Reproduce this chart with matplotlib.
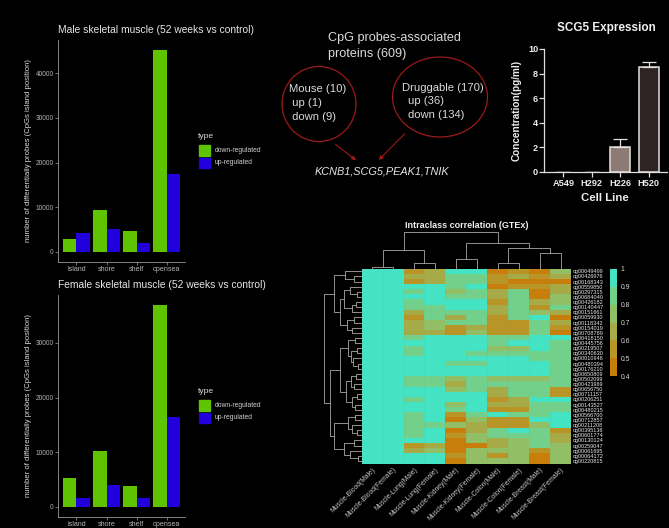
import numpy as np
import matplotlib
matplotlib.use("Agg")
import matplotlib.pyplot as plt
from matplotlib.patches import Rectangle, Ellipse
from matplotlib.colors import ListedColormap, BoundaryNorm
from matplotlib.cm import ScalarMappable

plt.rcParams['font.family'] = ['Liberation Sans', 'DejaVu Sans']

# ---------------- data ----------------
cpg_categories = ['island', 'shore', 'shelf', 'opensea']
male_down = [2770, 9350, 4710, 45230]
male_up = [4260, 5080, 1870, 17500]
female_down = [5300, 10160, 3830, 36940]
female_up = [1640, 3960, 1580, 16430]
type_labels = ['down-regulated', 'up-regulated']

cell_lines = ['A549', 'H292', 'H226', 'H520']
scg5_conc = [0.0, 0.0, 2.0, 8.55]
scg5_err = [0.0, 0.0, 0.7, 0.4]

tissues = ['Muscle-Blood(Male)', 'Muscle-Blood(Female)', 'Muscle-Lung(Male)',
           'Muscle-Lung(Female)', 'Muscle-Kidney(Male)', 'Muscle-Kidney(Female)',
           'Muscle-Colon(Male)', 'Muscle-Colon(Female)', 'Muscle-Breast(Male)',
           'Muscle-Breast(Female)']
probes = ['cg00649499', 'cg00426976', 'cg00168343', 'cg00559850', 'cg00297315',
          'cg00684040', 'cg00426182', 'cg00140447', 'cg00151661', 'cg00059930',
          'cg00118342', 'cg00154019', 'cg00708789', 'cg00418150', 'cg00445756',
          'cg00219507', 'cg00340630', 'cg00010946', 'cg00480394', 'cg00176210',
          'cg00650809', 'cg00502099', 'cg00423969', 'cg00656750', 'cg00711157',
          'cg00206251', 'cg00143527', 'cg00480215', 'cg00566700', 'cg00712857',
          'cg00211208', 'cg00395136', 'cg00601774', 'cg00130124', 'cg00259047',
          'cg00061695', 'cg00064172', 'cg00220815']
icc = np.array([
    [1, 1, .56, .66, .96, .96, .46, .56, .46, .75],
    [1, 1, .66, .66, .84, .84, .56, .66, .56, .66],
    [1, 1, .56, .66, .84, .84, .56, .46, .46, .46],
    [1, 1, .96, .96, .84, .96, .46, .56, .56, .66],
    [1, 1, .84, .96, .75, .84, .66, .84, .46, .66],
    [1, 1, .96, .96, .84, .84, .66, .84, .46, .75],
    [1, 1, .84, .96, .96, .96, .56, .84, .66, .75],
    [1, 1, .84, .84, .96, .96, .66, .84, .56, .84],
    [1, 1, .66, .84, .84, .84, .66, .84, .75, .66],
    [1, 1, .56, .84, .66, .84, .56, .84, .96, .46],
    [1, 1, .66, .75, .84, .84, .56, .56, .84, .66],
    [1, 1, .66, .75, .56, .66, .56, .56, .84, .56],
    [1, 1, .66, .66, .56, .75, .56, .56, .84, .46],
    [1, 1, .84, .96, .96, .96, .84, .84, .96, .96],
    [1, 1, .96, .96, .96, .96, .84, .96, .96, .84],
    [1, 1, .84, .96, .96, .96, .75, .75, .96, .84],
    [1, 1, .84, .96, .96, .84, .84, .84, .84, .84],
    [1, 1, .96, .96, .96, .96, .96, .96, .84, .84],
    [1, 1, .96, .96, .84, .84, .96, .96, .96, .84],
    [1, 1, .96, .96, .96, .96, .96, .96, .96, .84],
    [1, 1, .96, .96, .96, .96, .96, .96, .96, .84],
    [1, 1, .84, .84, .75, .84, .75, .75, .75, .84],
    [1, 1, .84, .84, .66, .84, .84, .84, .84, .84],
    [1, 1, .96, .96, .75, .84, .66, .84, .84, .56],
    [1, 1, .96, .96, .96, .96, .66, .84, .84, .56],
    [1, 1, .84, .96, .96, .96, .56, .66, .96, .96],
    [1, 1, .96, .96, .75, .96, .66, .66, .84, .84],
    [1, 1, .96, .96, .84, .96, .56, .56, .84, .84],
    [1, 1, .84, .96, .56, .84, .96, .84, .84, .96],
    [1, 1, .84, .96, .46, .75, .56, .56, .96, .96],
    [1, 1, .84, .84, .75, .66, .56, .56, .75, .96],
    [1, 1, .84, .96, .46, .66, .84, .96, .84, .56],
    [1, 1, .84, .96, .56, .75, .84, .84, .84, .66],
    [1, 1, .96, .96, .46, .75, .66, .75, .84, .66],
    [1, 1, .56, .66, .46, .46, .66, .75, .84, .75],
    [1, 1, .66, .75, .46, .75, .75, .75, .56, .75],
    [1, 1, .96, .96, .56, .75, .56, .75, .46, .75],
    [1, 1, .96, .96, .46, .75, .75, .75, .46, .75],
])
# dendrograms: (merge height, left, right); leaves are indices
col_tree = (37, (18.7, (1.4, 0, 1), (5.4, 2, 3)),
            (26, (9.4, 4, 5), (20.4, (6, 6, 7), (16, 8, 9))))
row_tree = (37.7,
            (28, (17, 0, (8, 1, 2)),
                 (22, (18, (12, 3, (5, 4, 5)), (10, (6, 6, 7), 8)),
                      (15, (8, 9, 10), (10, 11, 12)))),
            (32, (22, (14, (7, 13, 14), (11, (5, 15, 16), (9, 17, (4, 18, 19)))),
                      (16, (11, (6, 20, 21), (8, 22, 23)), (10, (5, 24, 25), (7, 26, 27)))),
                 (28, (14, (7, 28, 29), (10, 30, (5, 31, 32))),
                      (18, (8, 33, 34), (12, 35, (4, 36, 37))))))
cbar_ticks = [0.4, 0.5, 0.6, 0.7, 0.8, 0.9, 1.0]
cbar_labels = ['0.4', '0.5', '0.6', '0.7', '0.8', '0.9', '1']

# ---------------- figure ----------------
W, H = 669, 528
fig = plt.figure(figsize=(W / 100, H / 100), dpi=100, facecolor='black')


def add_ax(l, t, r, b):
    a = fig.add_axes([l / W, 1 - b / H, (r - l) / W, (b - t) / H])
    a.set_facecolor('black')
    return a


def ftxt(x, y, s, **kw):
    kw.setdefault('va', 'center')
    return fig.text(x / W, 1 - y / H, s, **kw)


# overlay for the diagram panel (pixel coords)
ov = fig.add_axes([0, 0, 1, 1])
ov.set_xlim(0, W)
ov.set_ylim(H, 0)
ov.axis('off')
ov.patch.set_alpha(0)

GREEN = '#5EC400'
BLUE = '#2200DC'


def cpg_panel(top, bottom, title, title_y, down, up, yticks, leg_y):
    ax = add_ax(58.3, top, 185, bottom)
    x = np.arange(1, len(cpg_categories) + 1)
    ax.bar(x - 0.225, down, 0.45, color=GREEN)
    ax.bar(x + 0.225, up, 0.45, color=BLUE)
    m = max(max(down), max(up))
    ax.set_ylim(-0.05 * m, 1.05 * m)
    ax.set_xlim(0.4, 4.6)
    for s in ['top', 'right']:
        ax.spines[s].set_visible(False)
    for s in ['left', 'bottom']:
        ax.spines[s].set_color('#9a9a9a')
        ax.spines[s].set_linewidth(0.6)
    ax.set_xticks(x, cpg_categories)
    ax.set_yticks(yticks, [str(v) for v in yticks])
    ax.tick_params(colors='#9a9a9a', labelcolor='#b5b5b5', labelsize=4.7,
                   length=2, width=0.5, pad=1.2)
    ax.tick_params(axis='x', labelsize=5.1)
    ftxt(58.3, title_y, title, fontsize=7.4, color='#e6e6e6', ha='left')
    ftxt(29, (top + bottom) / 2, 'number of differentially probes (CpGs island position)',
         rotation=90, fontsize=5.6, color='#d9d9d9', ha='center')
    ftxt(198.3, leg_y, 'type', fontsize=6.1, color='#d9d9d9', ha='left')
    for i, (c, lab) in enumerate(zip([GREEN, BLUE], type_labels)):
        y0 = leg_y + 8.5 + i * 12.4
        fig.add_artist(Rectangle((199 / W, 1 - (y0 + 10.7) / H), 11 / W, 10.7 / H,
                                 transform=fig.transFigure, color=c))
        ftxt(215, y0 + 5.35, lab, fontsize=4.9, color='#d0d0d0', ha='left')


cpg_panel(40, 261.7, 'Male skeletal muscle (52 weeks vs control)', 30,
          male_down, male_up, [0, 10000, 20000, 30000, 40000], 136.7)
cpg_panel(295, 516.7, 'Female skeletal muscle (52 weeks vs control)', 285,
          female_down, female_up, [0, 10000, 20000, 30000], 391.7)

# ---------------- diagram panel ----------------
TXT = '#dadada'
RED = '#9c1a1a'
ftxt(328, 38, 'CpG probes-associated', fontsize=9.1, color=TXT, ha='left')
ftxt(328, 54, 'proteins (609)', fontsize=9.1, color=TXT, ha='left')
ov.add_patch(Ellipse((319, 104), 74, 75, fill=False, ec=RED, lw=0.9))
ov.add_patch(Ellipse((440, 97), 95, 80, fill=False, ec=RED, lw=0.9))
for y, s in [(89, 'Mouse (10)'), (103, ' up (1)'), (117, ' down (9)')]:
    ftxt(289, y, s, fontsize=8.1, color=TXT, ha='left')
for x, y, s in [(401.7, 88, 'Druggable (170)'), (407.7, 101, 'up (36)'), (407.7, 115, 'down (134)')]:
    ftxt(x, y, s, fontsize=8.1, color=TXT, ha='left')
ov.annotate('', xy=(358.3, 162), xytext=(333.3, 142.7),
            arrowprops=dict(arrowstyle='-|>', color=RED, lw=0.8, mutation_scale=6))
ov.annotate('', xy=(376.7, 162), xytext=(406.7, 131.7),
            arrowprops=dict(arrowstyle='-|>', color=RED, lw=0.8, mutation_scale=6))
ftxt(381.7, 171.7, 'KCNB1,SCG5,PEAK1,TNIK', fontsize=7.8, style='italic',
     color='#e6e6e6', ha='center')

# ---------------- SCG5 bar chart ----------------
LT = '#e4dede'
axc = add_ax(544.3, 49, 666.7, 171.7)
xc = np.arange(len(cell_lines))
axc.bar(xc, scg5_conc, 0.7, color=['#2e2424', '#2e2424', '#8c7b75', '#2e2424'],
        edgecolor=LT, linewidth=[1.1 if v > 0 else 0 for v in scg5_conc])
axc.errorbar(xc, scg5_conc, yerr=[np.zeros(len(xc)), scg5_err], fmt='none',
             ecolor=LT, elinewidth=0.9, capsize=5, capthick=0.9)
axc.set_ylim(0, 10)
axc.set_xlim(-0.67, 3.63)
for s in ['top', 'right']:
    axc.spines[s].set_visible(False)
for s in ['left', 'bottom']:
    axc.spines[s].set_color(LT)
    axc.spines[s].set_linewidth(0.9)
axc.set_yticks([0, 2, 4, 6, 8, 10])
axc.set_xticks(xc, cell_lines)
axc.tick_params(colors=LT, labelcolor='#ececec', length=3.4, width=0.9, labelsize=6.6)
axc.tick_params(axis='y', pad=1)
axc.tick_params(axis='x', pad=2.2)
for lab in axc.get_xticklabels() + axc.get_yticklabels():
    lab.set_fontweight('bold')
ftxt(606, 28, 'SCG5 Expression', fontsize=8.5, fontweight='bold', color='#f0f0f0', ha='center')
ftxt(517, 110, 'Concentration(pg/ml)', fontsize=7.2, fontweight='bold', color='#ececec',
     rotation=90, ha='center')
ftxt(605, 198, 'Cell Line', fontsize=8.2, fontweight='bold', color='#ececec', ha='center')

# ---------------- heatmap ----------------
hm_colors = ['#C77E0A', '#B99427', '#A6AA47', '#92BE66', '#72D08A', '#44E3C4']
cmap = ListedColormap(hm_colors)
norm = BoundaryNorm(cbar_ticks, cmap.N, clip=True)
axh = add_ax(361.7, 268.7, 571, 463.5)
nr, nc = icc.shape
axh.pcolormesh(np.arange(nc + 1), np.arange(nr + 1), icc, cmap=cmap, norm=norm,
               edgecolors='none')
for xv in range(1, nc):
    axh.axvline(xv, color=(0.3, 0.6, 0.5, 0.12), lw=0.4)
axh.set_xlim(0, nc)
axh.set_ylim(nr, 0)
for s in axh.spines.values():
    s.set_visible(False)
axh.yaxis.tick_right()
axh.set_yticks(np.arange(nr) + 0.5, probes)
axh.set_xticks(np.arange(nc) + 0.5)
axh.set_xticklabels(tissues, rotation=45, ha='right', va='top', rotation_mode='anchor')
axh.tick_params(axis='y', length=0, pad=1.2, labelsize=4.0, labelcolor='#e8e8e8')
axh.tick_params(axis='x', length=0, pad=2.0, labelsize=4.9, labelcolor='#c8c8c8')
ftxt(466.7, 225, 'Intraclass correlation (GTEx)', fontsize=6.5, fontweight='bold',
     color='#eeeeee', ha='center')

DCOL = '#a8a8a8'


def draw_tree(ax, node, vertical):
    if isinstance(node, int):
        return node + 0.5, 0.0
    h, a, b = node
    pa, ha = draw_tree(ax, a, vertical)
    pb, hb = draw_tree(ax, b, vertical)
    if vertical:
        ax.plot([pa, pa, pb, pb], [ha, h, h, hb], color=DCOL, lw=0.6, clip_on=False)
    else:
        ax.plot([ha, h, h, hb], [pa, pa, pb, pb], color=DCOL, lw=0.6, clip_on=False)
    return (pa + pb) / 2, h


axd = add_ax(361.7, 231.7, 571, 268.7)
draw_tree(axd, col_tree, True)
axd.set_xlim(0, nc)
axd.set_ylim(0, 37)
axd.axis('off')

axr = add_ax(324, 268.7, 361.7, 463.5)
draw_tree(axr, row_tree, False)
axr.set_xlim(37.7, 0)
axr.set_ylim(nr, 0)
axr.axis('off')

cax = add_ax(609.5, 268.7, 617.3, 376.3)
cb = fig.colorbar(ScalarMappable(norm=norm, cmap=cmap), cax=cax, ticks=cbar_ticks)
cb.set_ticklabels(cbar_labels)
cb.outline.set_visible(False)
cax.tick_params(length=0, labelsize=4.9, labelcolor='#d8d8d8', pad=2.2)

fig.savefig('out.png', dpi=100, facecolor='black')
